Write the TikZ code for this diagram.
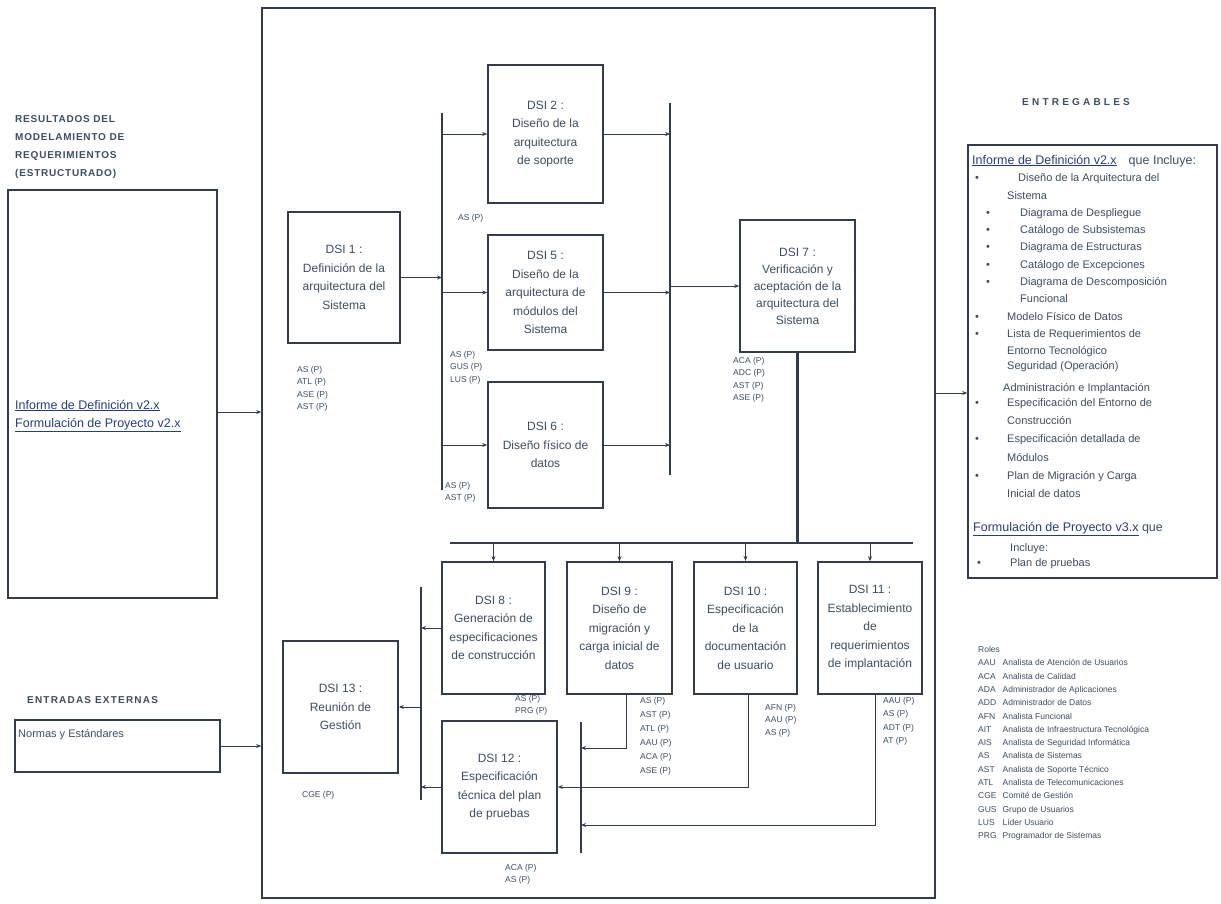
\documentclass[tikz,border=0pt]{standalone}
\usepackage{fontspec}
\setmainfont{Liberation Sans}
\newfontfamily\capsfont[LetterSpace=8]{Liberation Sans}
\newfontfamily\widecaps[LetterSpace=32]{Liberation Sans}
\newfontfamily\midcaps[LetterSpace=12]{Liberation Sans}
\usetikzlibrary{arrows.meta}
\definecolor{ln}{RGB}{50,60,75}
\definecolor{tx}{RGB}{60,78,98}
\definecolor{lk}{RGB}{40,62,118}
\newcommand\entrow[4]{\node[rtext] (#1) at (#2,#3) {#4};}
\begin{document}
\begin{tikzpicture}[x=1pt,y=-1pt,
  dsibox/.style={draw=ln, line width=1.7pt, fill=white, text=tx, align=center,
    font=\fontsize{12}{18.5}\selectfont, inner sep=2pt},
  plain/.style={draw=ln, line width=1.5pt},
  lbl/.style={text=tx, align=left, font=\fontsize{8.5}{12.5}\selectfont, inner sep=0pt, anchor=north west},
  arr/.style={draw=ln, line width=1pt, -{Stealth[length=5pt,width=4pt]}},
  bus/.style={draw=ln, line width=1.4pt},
  rtext/.style={text=tx, font=\fontsize{11}{13}\selectfont, inner sep=0pt, anchor=base west},
  ttl/.style={text=tx, inner sep=0pt}]
\fill[white] (0,0) rectangle (1221,903);
\useasboundingbox (0,0) rectangle (1221,903);

% main frame
\node[plain, minimum width=673pt, minimum height=890pt, inner sep=0pt] (main) at (598.5,453) {};

% left side
\node[ttl, anchor=north west, align=left, font=\capsfont\bfseries\fontsize{10}{18}\selectfont] (tres) at (15,115)
  {RESULTADOS DEL\\MODELAMIENTO DE\\REQUERIMIENTOS\\(ESTRUCTURADO)};
\node[plain, minimum width=209pt, minimum height=408pt, inner sep=0pt] (lb) at (112.5,394) {};
\node[text=lk, anchor=base west, inner sep=0pt, font=\fontsize{12.5}{13}\selectfont] (lt1) at (15,409) {\underline{Informe de Definición v2.x}};
\node[text=lk, anchor=base west, inner sep=0pt, font=\fontsize{12.5}{13}\selectfont] (lt2) at (15,427) {\underline{Formulación de Proyecto v2.x}};
\draw[arr] (lb.east |- 0,412) -- (main.west |- 0,412);

\node[ttl, anchor=west, font=\midcaps\bfseries\fontsize{10}{12}\selectfont] (tent) at (27,700) {ENTRADAS EXTERNAS};
\node[plain, minimum width=205pt, minimum height=52pt, inner sep=0pt] (nb) at (117.5,746) {};
\node[text=tx, anchor=base west, inner sep=0pt, font=\fontsize{11}{12}\selectfont] (nt) at (18,737) {Normas y Estándares};
\draw[arr] (nb.east) -- (nb.east -| main.west);

% DSI boxes
\node[dsibox, minimum width=112pt, minimum height=131pt] (d1) at (344,277.5) {DSI 1 :\\Definición de la\\arquitectura del\\Sistema};
\node[dsibox, minimum width=115pt, minimum height=138pt] (d2) at (545.5,134) {DSI 2 :\\Diseño de la\\arquitectura\\de soporte};
\node[dsibox, minimum width=115pt, minimum height=115pt] (d5) at (545.5,292.5) {DSI 5 :\\Diseño de la\\arquitectura de\\módulos del\\Sistema};
\node[dsibox, minimum width=115pt, minimum height=126pt] (d6) at (545.5,445) {DSI 6 :\\Diseño físico de\\datos};
\node[dsibox, minimum width=115pt, minimum height=132pt, font=\fontsize{12}{17}\selectfont] (d7) at (797.5,286) {DSI 7 :\\Verificación y\\aceptación de la\\arquitectura del\\Sistema};
\node[dsibox, minimum width=103pt, minimum height=132pt] (d8) at (493.5,628) {DSI 8 :\\Generación de\\especificaciones\\de construcción};
\node[dsibox, minimum width=105pt, minimum height=132pt] (d9) at (619.5,628) {DSI 9 :\\Diseño de\\migración y\\carga inicial de\\datos};
\node[dsibox, minimum width=103pt, minimum height=132pt, line width=2.3pt] (d10) at (745.5,628) {DSI 10 :\\Especificación\\de la\\documentación\\de usuario};
\node[dsibox, minimum width=104pt, minimum height=132pt] (d11) at (870,628) {DSI 11 :\\Establecimiento\\de\\requerimientos\\de implantación};
\node[dsibox, minimum width=115pt, minimum height=132pt] (d12) at (499.5,787) {DSI 12 :\\Especificación\\técnica del plan\\de pruebas};
\node[dsibox, minimum width=115pt, minimum height=132pt] (d13) at (340.5,707) {DSI 13 :\\Reunión de\\Gestión};

% buses
\coordinate (b1t) at (442,113); \coordinate (b1b) at (442,490);
\coordinate (b2t) at (670,103); \coordinate (b2b) at (670,475);
\coordinate (hbl) at (450,543); \coordinate (hbr) at (913,543);
\coordinate (b3t) at (421,587); \coordinate (b3b) at (421,800);
\coordinate (b4t) at (581,722); \coordinate (b4b) at (581,853);
\draw[bus] (b1t) -- (b1b);
\draw[bus] (b2t) -- (b2b);
\draw[bus] (hbl) -- (hbr);
\draw[bus] (b3t) -- (b3b);
\draw[bus] (b4t) -- (b4b);

% upper connectors
\draw[arr] (d1.east) -- (d1.east -| b1t);
\draw[arr] (d2.west -| b1t) -- (d2.west);
\draw[arr] (d5.west -| b1t) -- (d5.west);
\draw[arr] (d6.west -| b1t) -- (d6.west);
\draw[arr] (d2.east) -- (d2.east -| b2t);
\draw[arr] (d5.east) -- (d5.east -| b2t);
\draw[arr] (d6.east) -- (d6.east -| b2t);
\draw[arr] (d7.west -| b2t) -- (d7.west);
\draw[draw=ln, line width=2.2pt] (d7.south) -- (d7.south |- hbl);

% lower connectors
\draw[arr] (d8.north |- hbl) -- (d8.north);
\draw[arr] (d9.north |- hbl) -- (d9.north);
\draw[arr] (d10.north |- hbl) -- (d10.north);
\draw[arr] (d11.north |- hbl) -- (d11.north);
\draw[arr] (d8.west) -- (d8.west -| b3t);
\draw[arr] (d13.east -| b3t) -- (d13.east);
\draw[arr] (d12.west) -- (d12.west -| b3t);
\draw[arr] ([xshift=7pt]d9.south) |- (b4t |- 0,748);
\draw[arr] ([xshift=3pt]d10.south) |- (d12.east);
\draw[arr] ([xshift=5pt]d11.south) |- (b4t |- 0,825);

% participant labels
\node[lbl] (p1) at (297,366) {AS (P)\\ATL (P)\\ASE (P)\\AST (P)};
\node[lbl] (p2) at (458,214) {AS (P)};
\node[lbl] (p3) at (450,351) {AS (P)\\GUS (P)\\LUS (P)};
\node[lbl] (p4) at (445,482) {AS (P)\\AST (P)};
\node[lbl] (p5) at (733,357) {ACA (P)\\ADC (P)\\AST (P)\\ASE (P)};
\node[lbl] (p6) at (515,695) {AS (P)\\PRG (P)};
\node[lbl, font=\fontsize{8.5}{14}\selectfont] (p7) at (640,697) {AS (P)\\AST (P)\\ATL (P)\\AAU (P)\\ACA (P)\\ASE (P)};
\node[lbl] (p8) at (765,704) {AFN (P)\\AAU (P)\\AS (P)};
\node[lbl, font=\fontsize{8.5}{13.5}\selectfont] (p9) at (883,697) {AAU (P)\\AS (P)\\ADT (P)\\AT (P)};
\node[lbl] (p10) at (302,791) {CGE (P)};
\node[lbl] (p11) at (505,864) {ACA (P)\\AS (P)};

% right side
\node[ttl, font=\widecaps\bfseries\fontsize{10}{12}\selectfont] (tentr) at (1076,102) {ENTREGABLES};
\node[plain, minimum width=249pt, minimum height=433pt, inner sep=0pt] (rb) at (1092.5,361.5) {};
\draw[arr] (main.east |- 0,393) -- (rb.west |- 0,393);

\node[rtext, text=lk, font=\fontsize{12.5}{13}\selectfont] (r0) at (972,164) {\underline{Informe de Definición v2.x}\hspace{12pt}{\color{tx}que Incluye:}};
\entrow{s1}{975}{181}{•}
\entrow{r1}{1018}{181}{Diseño de la Arquitectura del}
\entrow{r2}{1007}{199}{Sistema}
\entrow{s2}{986}{216}{•}
\entrow{r3}{1020}{216}{Diagrama de Despliegue}
\entrow{s3}{986}{233}{•}
\entrow{r4}{1020}{233}{Catálogo de Subsistemas}
\entrow{s4}{986}{250}{•}
\entrow{r5}{1020}{250}{Diagrama de Estructuras}
\entrow{s5}{986}{268}{•}
\entrow{r6}{1020}{268}{Catálogo de Excepciones}
\entrow{s6}{986}{285}{•}
\entrow{r7}{1020}{285}{Diagrama de Descomposición}
\entrow{r8}{1020}{302}{Funcional}
\entrow{s7}{975}{320}{•}
\entrow{r9}{1007}{320}{Modelo Físico de Datos}
\entrow{s8}{975}{337}{•}
\entrow{r10}{1007}{337}{Lista de Requerimientos de}
\entrow{r11}{1007}{354}{Entorno Tecnológico}
\entrow{r12}{1007}{369}{Seguridad (Operación)}
\entrow{r13}{1003}{391}{Administración e Implantación}
\entrow{s9}{975}{406}{•}
\entrow{r14}{1007}{406}{Especificación del Entorno de}
\entrow{r15}{1007}{424}{Construcción}
\entrow{s10}{975}{442}{•}
\entrow{r16}{1007}{442}{Especificación detallada de}
\entrow{r17}{1007}{461}{Módulos}
\entrow{s11}{975}{479}{•}
\entrow{r18}{1007}{479}{Plan de Migración y Carga}
\entrow{r19}{1007}{497}{Inicial de datos}
\node[rtext, text=lk, font=\fontsize{12.5}{13}\selectfont] (r20) at (973,531) {\underline{Formulación de Proyecto v3.x}\ {\color{tx}que}};
\entrow{r21}{1010}{551}{Incluye:}
\entrow{s12}{977}{566}{•}
\entrow{r22}{1010}{566}{Plan de pruebas}

% legend
\node[text=tx, anchor=north west, inner sep=0pt, font=\fontsize{8.5}{13.3}\selectfont] (leg) at (978,643) {%
\begin{tabular}{@{}l@{\hspace{6pt}}l@{}}
\multicolumn{2}{@{}l}{Roles}\\
AAU & Analista de Atención de Usuarios\\
ACA & Analista de Calidad\\
ADA & Administrador de Aplicaciones\\
ADD & Administrador de Datos\\
AFN & Analista Funcional\\
AIT & Analista de Infraestructura Tecnológica\\
AIS & Analista de Seguridad Informática\\
AS  & Analista de Sistemas\\
AST & Analista de Soporte Técnico\\
ATL & Analista de Telecomunicaciones\\
CGE & Comité de Gestión\\
GUS & Grupo de Usuarios\\
LUS & Líder Usuario\\
PRG & Programador de Sistemas
\end{tabular}};
\end{tikzpicture}
\end{document}
